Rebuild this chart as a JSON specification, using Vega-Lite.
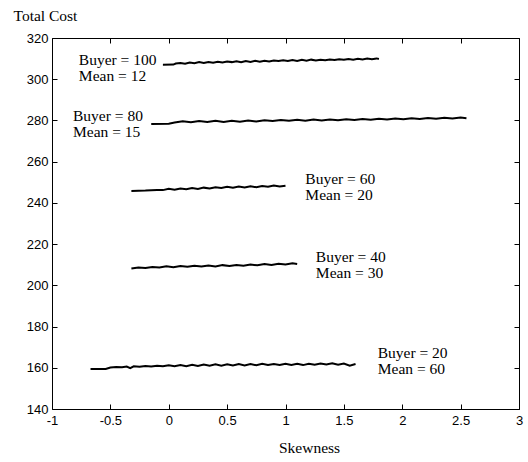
{
  "$schema": "https://vega.github.io/schema/vega-lite/v6.json",
  "width": 467,
  "height": 371,
  "autosize": {"type": "none"},
  "padding": {"left": 52, "top": 38, "right": 9, "bottom": 53},
  "background": "white",
  "config": {
    "view": {"stroke": "black", "strokeWidth": 1},
    "axis": {
      "grid": false,
      "domain": false,
      "tickColor": "black",
      "tickSize": -5,
      "labelColor": "black",
      "labelFont": "Liberation Sans",
      "labelFontSize": 13,
      "labelFlush": false,
      "labelOverlap": false,
      "titleColor": "black",
      "titleFont": "Liberation Serif",
      "titleFontSize": 15.5,
      "titleFontWeight": "normal"
    }
  },
  "datasets": {
    "lines": [
      {"buyer": 100, "x": -0.05, "y": 307.0}, {"buyer": 100, "x": 0.04, "y": 307.1}, {"buyer": 100, "x": 0.06, "y": 307.6}, {"buyer": 100, "x": 0.1, "y": 307.9},
      {"buyer": 100, "x": 0.14, "y": 307.5}, {"buyer": 100, "x": 0.18, "y": 308.1}, {"buyer": 100, "x": 0.22, "y": 307.8}, {"buyer": 100, "x": 0.26, "y": 308.3},
      {"buyer": 100, "x": 0.3, "y": 307.9}, {"buyer": 100, "x": 0.34, "y": 308.4}, {"buyer": 100, "x": 0.38, "y": 308.0}, {"buyer": 100, "x": 0.42, "y": 308.5},
      {"buyer": 100, "x": 0.46, "y": 308.1}, {"buyer": 100, "x": 0.5, "y": 308.6}, {"buyer": 100, "x": 0.54, "y": 308.3}, {"buyer": 100, "x": 0.58, "y": 308.7},
      {"buyer": 100, "x": 0.62, "y": 308.2}, {"buyer": 100, "x": 0.66, "y": 308.8}, {"buyer": 100, "x": 0.7, "y": 308.4}, {"buyer": 100, "x": 0.74, "y": 308.9},
      {"buyer": 100, "x": 0.78, "y": 308.5}, {"buyer": 100, "x": 0.82, "y": 309.0}, {"buyer": 100, "x": 0.86, "y": 308.6}, {"buyer": 100, "x": 0.9, "y": 309.1},
      {"buyer": 100, "x": 0.94, "y": 308.8}, {"buyer": 100, "x": 0.98, "y": 309.2}, {"buyer": 100, "x": 1.02, "y": 308.8}, {"buyer": 100, "x": 1.06, "y": 309.3},
      {"buyer": 100, "x": 1.1, "y": 308.9}, {"buyer": 100, "x": 1.14, "y": 309.4}, {"buyer": 100, "x": 1.18, "y": 309.0}, {"buyer": 100, "x": 1.22, "y": 309.5},
      {"buyer": 100, "x": 1.26, "y": 309.1}, {"buyer": 100, "x": 1.3, "y": 309.5}, {"buyer": 100, "x": 1.34, "y": 309.2}, {"buyer": 100, "x": 1.38, "y": 309.6},
      {"buyer": 100, "x": 1.42, "y": 309.3}, {"buyer": 100, "x": 1.46, "y": 309.7}, {"buyer": 100, "x": 1.5, "y": 309.4}, {"buyer": 100, "x": 1.54, "y": 309.8},
      {"buyer": 100, "x": 1.58, "y": 309.5}, {"buyer": 100, "x": 1.62, "y": 309.9}, {"buyer": 100, "x": 1.66, "y": 309.6}, {"buyer": 100, "x": 1.7, "y": 310.0},
      {"buyer": 100, "x": 1.74, "y": 309.7}, {"buyer": 100, "x": 1.78, "y": 310.1}, {"buyer": 100, "x": 1.8, "y": 309.8},

      {"buyer": 80, "x": -0.15, "y": 278.3}, {"buyer": 80, "x": 0.0, "y": 278.4}, {"buyer": 80, "x": 0.05, "y": 279.0}, {"buyer": 80, "x": 0.12, "y": 279.6},
      {"buyer": 80, "x": 0.19, "y": 279.1}, {"buyer": 80, "x": 0.26, "y": 279.7}, {"buyer": 80, "x": 0.33, "y": 279.2}, {"buyer": 80, "x": 0.4, "y": 279.8},
      {"buyer": 80, "x": 0.47, "y": 279.3}, {"buyer": 80, "x": 0.54, "y": 279.9}, {"buyer": 80, "x": 0.61, "y": 279.4}, {"buyer": 80, "x": 0.68, "y": 280.0},
      {"buyer": 80, "x": 0.75, "y": 279.5}, {"buyer": 80, "x": 0.82, "y": 280.1}, {"buyer": 80, "x": 0.89, "y": 279.7}, {"buyer": 80, "x": 0.96, "y": 280.2},
      {"buyer": 80, "x": 1.03, "y": 279.8}, {"buyer": 80, "x": 1.1, "y": 280.3}, {"buyer": 80, "x": 1.17, "y": 279.9}, {"buyer": 80, "x": 1.24, "y": 280.4},
      {"buyer": 80, "x": 1.31, "y": 280.0}, {"buyer": 80, "x": 1.38, "y": 280.5}, {"buyer": 80, "x": 1.45, "y": 280.1}, {"buyer": 80, "x": 1.52, "y": 280.6},
      {"buyer": 80, "x": 1.59, "y": 280.2}, {"buyer": 80, "x": 1.66, "y": 280.7}, {"buyer": 80, "x": 1.73, "y": 280.3}, {"buyer": 80, "x": 1.8, "y": 280.8},
      {"buyer": 80, "x": 1.87, "y": 280.5}, {"buyer": 80, "x": 1.94, "y": 281.0}, {"buyer": 80, "x": 2.01, "y": 280.6}, {"buyer": 80, "x": 2.08, "y": 281.1},
      {"buyer": 80, "x": 2.15, "y": 280.7}, {"buyer": 80, "x": 2.22, "y": 281.2}, {"buyer": 80, "x": 2.29, "y": 280.8}, {"buyer": 80, "x": 2.36, "y": 281.3},
      {"buyer": 80, "x": 2.43, "y": 280.9}, {"buyer": 80, "x": 2.5, "y": 281.4}, {"buyer": 80, "x": 2.55, "y": 281.1},

      {"buyer": 60, "x": -0.32, "y": 245.8}, {"buyer": 60, "x": -0.2, "y": 246.0}, {"buyer": 60, "x": -0.1, "y": 246.3}, {"buyer": 60, "x": -0.05, "y": 246.2},
      {"buyer": 60, "x": 0.0, "y": 246.8}, {"buyer": 60, "x": 0.05, "y": 246.4}, {"buyer": 60, "x": 0.1, "y": 247.0}, {"buyer": 60, "x": 0.15, "y": 246.6},
      {"buyer": 60, "x": 0.2, "y": 247.2}, {"buyer": 60, "x": 0.25, "y": 246.8}, {"buyer": 60, "x": 0.3, "y": 247.4}, {"buyer": 60, "x": 0.35, "y": 247.0},
      {"buyer": 60, "x": 0.4, "y": 247.6}, {"buyer": 60, "x": 0.45, "y": 247.2}, {"buyer": 60, "x": 0.5, "y": 247.8}, {"buyer": 60, "x": 0.55, "y": 247.3},
      {"buyer": 60, "x": 0.6, "y": 247.9}, {"buyer": 60, "x": 0.65, "y": 247.5}, {"buyer": 60, "x": 0.7, "y": 248.1}, {"buyer": 60, "x": 0.75, "y": 247.6},
      {"buyer": 60, "x": 0.8, "y": 248.2}, {"buyer": 60, "x": 0.85, "y": 247.8}, {"buyer": 60, "x": 0.9, "y": 248.4}, {"buyer": 60, "x": 0.95, "y": 247.9},
      {"buyer": 60, "x": 1.0, "y": 248.3},

      {"buyer": 40, "x": -0.32, "y": 208.2}, {"buyer": 40, "x": -0.26, "y": 208.7}, {"buyer": 40, "x": -0.2, "y": 208.4}, {"buyer": 40, "x": -0.14, "y": 208.9},
      {"buyer": 40, "x": -0.08, "y": 208.6}, {"buyer": 40, "x": -0.02, "y": 209.2}, {"buyer": 40, "x": 0.04, "y": 208.8}, {"buyer": 40, "x": 0.1, "y": 209.4},
      {"buyer": 40, "x": 0.16, "y": 209.0}, {"buyer": 40, "x": 0.22, "y": 209.5}, {"buyer": 40, "x": 0.28, "y": 209.1}, {"buyer": 40, "x": 0.34, "y": 209.6},
      {"buyer": 40, "x": 0.4, "y": 209.2}, {"buyer": 40, "x": 0.46, "y": 209.8}, {"buyer": 40, "x": 0.52, "y": 209.4}, {"buyer": 40, "x": 0.58, "y": 209.9},
      {"buyer": 40, "x": 0.64, "y": 209.5}, {"buyer": 40, "x": 0.7, "y": 210.1}, {"buyer": 40, "x": 0.76, "y": 209.7}, {"buyer": 40, "x": 0.82, "y": 210.3},
      {"buyer": 40, "x": 0.88, "y": 209.9}, {"buyer": 40, "x": 0.94, "y": 210.5}, {"buyer": 40, "x": 1.0, "y": 210.1}, {"buyer": 40, "x": 1.06, "y": 210.7},
      {"buyer": 40, "x": 1.1, "y": 210.4},

      {"buyer": 20, "x": -0.67, "y": 159.4}, {"buyer": 20, "x": -0.54, "y": 159.4}, {"buyer": 20, "x": -0.5, "y": 160.1}, {"buyer": 20, "x": -0.45, "y": 160.4},
      {"buyer": 20, "x": -0.4, "y": 160.3}, {"buyer": 20, "x": -0.36, "y": 160.6}, {"buyer": 20, "x": -0.33, "y": 159.8}, {"buyer": 20, "x": -0.3, "y": 160.7},
      {"buyer": 20, "x": -0.25, "y": 160.5}, {"buyer": 20, "x": -0.2, "y": 160.9}, {"buyer": 20, "x": -0.15, "y": 160.6}, {"buyer": 20, "x": -0.1, "y": 161.0},
      {"buyer": 20, "x": -0.05, "y": 160.7}, {"buyer": 20, "x": 0.0, "y": 161.2}, {"buyer": 20, "x": 0.05, "y": 160.8}, {"buyer": 20, "x": 0.1, "y": 161.3},
      {"buyer": 20, "x": 0.15, "y": 160.8}, {"buyer": 20, "x": 0.2, "y": 161.5}, {"buyer": 20, "x": 0.25, "y": 160.9}, {"buyer": 20, "x": 0.3, "y": 161.6},
      {"buyer": 20, "x": 0.35, "y": 161.0}, {"buyer": 20, "x": 0.4, "y": 161.7}, {"buyer": 20, "x": 0.45, "y": 161.0}, {"buyer": 20, "x": 0.5, "y": 161.7},
      {"buyer": 20, "x": 0.55, "y": 161.1}, {"buyer": 20, "x": 0.6, "y": 161.8}, {"buyer": 20, "x": 0.65, "y": 161.1}, {"buyer": 20, "x": 0.7, "y": 161.8},
      {"buyer": 20, "x": 0.75, "y": 161.2}, {"buyer": 20, "x": 0.8, "y": 161.9}, {"buyer": 20, "x": 0.85, "y": 161.3}, {"buyer": 20, "x": 0.9, "y": 161.8},
      {"buyer": 20, "x": 0.95, "y": 161.4}, {"buyer": 20, "x": 1.0, "y": 162.0}, {"buyer": 20, "x": 1.05, "y": 161.4}, {"buyer": 20, "x": 1.1, "y": 161.9},
      {"buyer": 20, "x": 1.15, "y": 161.3}, {"buyer": 20, "x": 1.2, "y": 162.0}, {"buyer": 20, "x": 1.25, "y": 161.5}, {"buyer": 20, "x": 1.3, "y": 162.1},
      {"buyer": 20, "x": 1.35, "y": 161.6}, {"buyer": 20, "x": 1.4, "y": 162.2}, {"buyer": 20, "x": 1.45, "y": 161.5}, {"buyer": 20, "x": 1.5, "y": 162.1},
      {"buyer": 20, "x": 1.55, "y": 161.0}, {"buyer": 20, "x": 1.6, "y": 161.8}
    ],
    "labels": [
      {"x": -0.77, "y": 309.4, "label": "Buyer = 100"},
      {"x": -0.77, "y": 301.6, "label": "Mean = 12"},
      {"x": -0.82, "y": 282.0, "label": "Buyer = 80"},
      {"x": -0.82, "y": 274.3, "label": "Mean = 15"},
      {"x": 1.17, "y": 251.6, "label": "Buyer = 60"},
      {"x": 1.17, "y": 243.9, "label": "Mean = 20"},
      {"x": 1.26, "y": 213.8, "label": "Buyer = 40"},
      {"x": 1.26, "y": 206.1, "label": "Mean = 30"},
      {"x": 1.79, "y": 167.2, "label": "Buyer = 20"},
      {"x": 1.79, "y": 159.5, "label": "Mean = 60"}
    ]
  },
  "layer": [
    {
      "data": {"name": "lines"},
      "mark": {"type": "line", "color": "black", "strokeWidth": 2, "strokeJoin": "miter"},
      "encoding": {
        "x": {
          "field": "x", "type": "quantitative",
          "scale": {"domain": [-1, 3], "nice": false, "zero": false},
          "axis": {
            "orient": "bottom",
            "values": [-1, -0.5, 0, 0.5, 1, 1.5, 2, 2.5, 3],
            "labelExpr": "datum.value < 0 ? '-' + format(-datum.value, '') : format(datum.value, '')",
            "labelPadding": 10,
            "title": "Skewness",
            "titleX": 257,
            "titleY": 38,
            "titleAnchor": null,
            "titleAlign": "center",
            "titleBaseline": "middle"
          }
        },
        "y": {
          "field": "y", "type": "quantitative",
          "scale": {"domain": [140, 320], "nice": false, "zero": false},
          "axis": {
            "orient": "left",
            "values": [140, 160, 180, 200, 220, 240, 260, 280, 300, 320],
            "labelPadding": 9,
            "title": "Total Cost",
            "titleAngle": 0,
            "titleX": -39,
            "titleY": -23,
            "titleAlign": "left",
            "titleBaseline": "middle"
          }
        },
        "detail": {"field": "buyer", "type": "nominal"},
        "order": {"field": "x", "type": "quantitative"}
      }
    },
    {
      "data": {"name": "lines"},
      "mark": {"type": "point", "opacity": 0},
      "encoding": {
        "x": {
          "field": "x", "type": "quantitative",
          "scale": {"domain": [-1, 3], "nice": false, "zero": false},
          "axis": {"orient": "top", "values": [-1, -0.5, 0, 0.5, 1, 1.5, 2, 2.5, 3], "labels": false, "title": null}
        },
        "y": {
          "field": "y", "type": "quantitative",
          "scale": {"domain": [140, 320], "nice": false, "zero": false},
          "axis": {"orient": "right", "values": [140, 160, 180, 200, 220, 240, 260, 280, 300, 320], "labels": false, "title": null}
        }
      }
    },
    {
      "data": {"name": "labels"},
      "mark": {"type": "text", "font": "Liberation Serif", "fontSize": 15.5, "align": "left", "baseline": "middle", "color": "black"},
      "encoding": {
        "x": {"field": "x", "type": "quantitative", "axis": null},
        "y": {"field": "y", "type": "quantitative", "axis": null},
        "text": {"field": "label", "type": "nominal"}
      }
    }
  ],
  "resolve": {"axis": {"x": "independent", "y": "independent"}}
}
